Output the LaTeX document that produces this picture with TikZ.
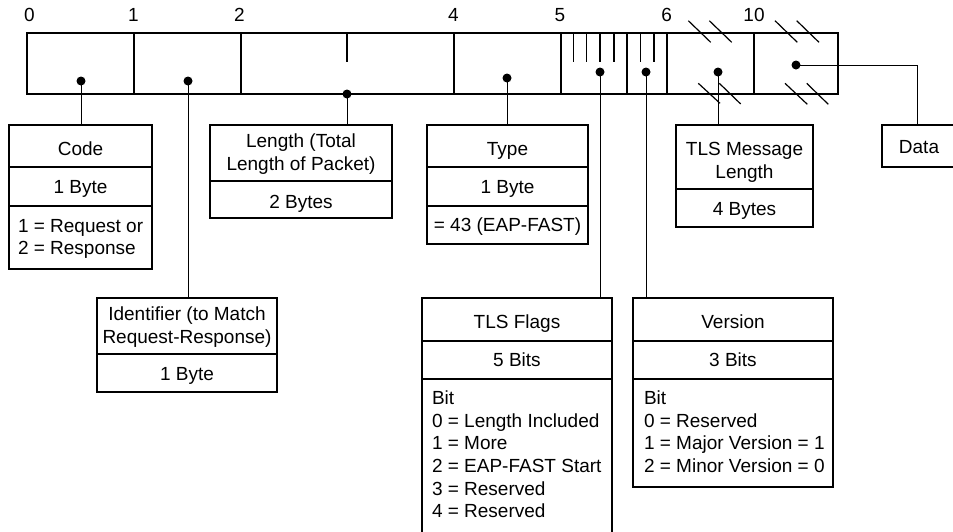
\documentclass[tikz,border=0pt]{standalone}
\usepackage{fontspec}
\setmainfont{Liberation Sans}
\begin{document}
\begin{tikzpicture}[x=1pt,y=-1pt,
  every node/.style={font=\fontsize{19}{22.5}\selectfont, inner sep=0pt, outer sep=0pt},
  fieldbox/.style={draw, line width=1.5pt, anchor=north west, inner sep=0pt, outer sep=0pt},
  cell/.style={line width=1.5pt},
  conn/.style={line width=1pt},
  tick/.style={line width=1.2pt},
  dotmark/.style={circle, fill=black, minimum size=9pt, inner sep=0pt},
  txt/.style={anchor=base},
  ltxt/.style={anchor=base west}]
\useasboundingbox (0,0) rectangle (953,531);

% ---- header bar ----
\node[fieldbox, minimum width=811pt, minimum height=61pt] (bar) at (27,33) {};
\foreach \xx in {134,241,454,561,627,667,754}
  \draw[cell] (\xx,33) -- (\xx,94);
\foreach \xx in {347,573.3,586.7,600,614,640.7,654}
  \draw[tick] (\xx,33) -- (\xx,62);
% break marks
\draw[tick] (688.3,20.7) -- (710.7,42.3);
\draw[tick] (709.3,20.7) -- (731.7,42.3);
\draw[tick] (698.3,83.3) -- (720,103.3);
\draw[tick] (719.3,83.3) -- (740.7,104);
\draw[tick] (775,20.7) -- (797.3,42.3);
\draw[tick] (796.7,20.7) -- (819,42.3);
\draw[tick] (785,83.3) -- (807.3,104.3);
\draw[tick] (806.7,83.3) -- (828.3,104.3);

% offsets
\node[txt] (n0) at (29.3,21.7) {0};
\node[txt] (n1) at (133.3,21.7) {1};
\node[txt] (n2) at (239.3,21.7) {2};
\node[txt] (n4) at (453.3,21.7) {4};
\node[txt] (n5) at (560,21.7) {5};
\node[txt] (n6) at (666.7,21.7) {6};
\node[txt] (n10) at (754,21.7) {10};

% dots
\node[dotmark] (dcode) at (81,81) {};
\node[dotmark] (did) at (188,81) {};
\node[dotmark] (dlen) at (347,94) {};
\node[dotmark] (dtype) at (507,78) {};
\node[dotmark] (dflags) at (600,72) {};
\node[dotmark] (dver) at (646,72) {};
\node[dotmark] (dtls) at (718,72) {};
\node[dotmark] (ddata) at (796,65) {};

% ---- Code ----
\node[fieldbox, minimum width=143pt, minimum height=144pt] (code) at (9,125) {};
\draw[cell] (9,167) -- (152,167);
\draw[cell] (9,206) -- (152,206);
\node[txt] (codeA) at (80.5,155.7) {Code};
\node[txt] (codeB) at (80.5,193.7) {1 Byte};
\node[ltxt] (codeC) at (18,232.7) {1 = Request or};
\node[ltxt] (codeD) at (18,254.7) {2 = Response};

% ---- Length ----
\node[fieldbox, minimum width=182pt, minimum height=93pt] (len) at (210,125) {};
\draw[cell] (210,181) -- (392,181);
\node[txt] (lenA) at (301,147.7) {Length (Total};
\node[txt] (lenB) at (301,170.7) {Length of Packet)};
\node[txt] (lenC) at (301,208.7) {2 Bytes};

% ---- Type ----
\node[fieldbox, minimum width=161pt, minimum height=119pt] (type) at (427,125) {};
\draw[cell] (427,167) -- (588,167);
\draw[cell] (427,206) -- (588,206);
\node[txt] (typeA) at (507.5,155.7) {Type};
\node[txt] (typeB) at (507.5,193.7) {1 Byte};
\node[txt] (typeC) at (507.5,231.7) {= 43 (EAP-FAST)};

% ---- TLS Message Length ----
\node[fieldbox, minimum width=137pt, minimum height=102pt] (tls) at (676,125) {};
\draw[cell] (676,189) -- (813,189);
\node[txt] (tlsA) at (744.5,155.7) {TLS Message};
\node[txt] (tlsB) at (744.5,178.7) {Length};
\node[txt] (tlsC) at (744.5,215.7) {4 Bytes};

% ---- Data ----
\node[fieldbox, minimum width=90pt, minimum height=42pt] (data) at (882,125) {};
\node[txt] (dataA) at (919,153.7) {Data};

% ---- Identifier ----
\node[fieldbox, minimum width=180pt, minimum height=94pt] (ident) at (97,298) {};
\draw[cell] (97,354) -- (277,354);
\node[txt] (idA) at (187,320.7) {Identifier (to Match};
\node[txt] (idB) at (187,343.7) {Request-Response)};
\node[txt] (idC) at (187,380.7) {1 Byte};

% ---- TLS Flags ----
\node[fieldbox, minimum width=190pt, minimum height=250pt] (flags) at (422,298) {};
\draw[cell] (422,341) -- (612,341);
\draw[cell] (422,379) -- (612,379);
\node[txt] (flA) at (517,328.7) {TLS Flags};
\node[txt] (flB) at (517,366.7) {5 Bits};
\node[ltxt] (fl0) at (432,404.7) {Bit};
\node[ltxt] (fl1) at (432,427.2) {0 = Length Included};
\node[ltxt] (fl2) at (432,449.7) {1 = More};
\node[ltxt] (fl3) at (432,472.7) {2 = EAP-FAST Start};
\node[ltxt] (fl4) at (432,495.2) {3 = Reserved};
\node[ltxt] (fl5) at (432,517.7) {4 = Reserved};

% ---- Version ----
\node[fieldbox, minimum width=200pt, minimum height=189pt] (ver) at (633,298) {};
\draw[cell] (633,341) -- (833,341);
\draw[cell] (633,379) -- (833,379);
\node[txt] (vA) at (733,328.7) {Version};
\node[txt] (vB) at (733,366.7) {3 Bits};
\node[ltxt] (v0) at (644,404.7) {Bit};
\node[ltxt] (v1) at (644,427.2) {0 = Reserved};
\node[ltxt] (v2) at (644,449.7) {1 = Major Version = 1};
\node[ltxt] (v3) at (644,472.7) {2 = Minor Version = 0};

% ---- connectors ----
\draw[conn] (dcode.center) -- (dcode.center |- code.north);
\draw[conn] (did.center) -- (did.center |- ident.north);
\draw[conn] (dlen.center) -- (dlen.center |- len.north);
\draw[conn] (dtype.center) -- (dtype.center |- type.north);
\draw[conn] (dflags.center) -- (dflags.center |- flags.north);
\draw[conn] (dver.center) -- (dver.center |- ver.north);
\draw[conn] (dtls.center) -- (dtls.center |- tls.north);
\draw[conn] (ddata.center) -- (917,65) coordinate (dturn) -- (dturn |- data.north);
\end{tikzpicture}
\end{document}
